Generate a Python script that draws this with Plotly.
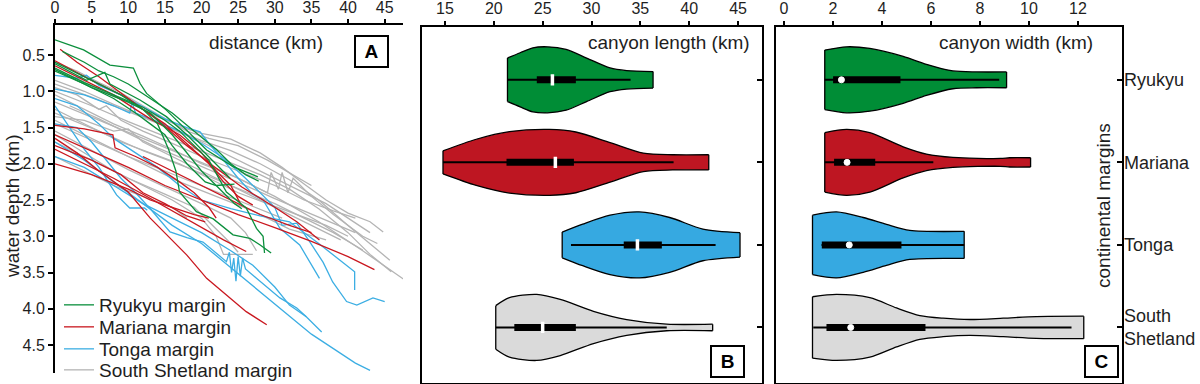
import plotly.graph_objects as go

# ---------------- data ----------------
MARGINS = ["Ryukyu", "Mariana", "Tonga", "South Shetland"]
MARGIN_TICKTEXT = ["Ryukyu", "Mariana", "Tonga", "South<br>Shetland"]
LEGEND_NAMES = ["Ryukyu margin", "Mariana margin", "Tonga margin", "South Shetland margin"]
LINE_COLORS = ["#0b8f3c", "#c9171f", "#3caee3", "#b4b4b4"]
FILL_COLORS = ["#008d36", "#be1622", "#36a9e1", "#dadada"]

DIST_TICKS = [0, 5, 10, 15, 20, 25, 30, 35, 40, 45]
DEPTH_TICKS = [0.5, 1.0, 1.5, 2.0, 2.5, 3.0, 3.5, 4.0, 4.5]
LENGTH_TICKS = [15, 20, 25, 30, 35, 40, 45]
WIDTH_TICKS = [0, 2, 4, 6, 8, 10, 12]

# Panel A: canyon thalweg profiles (distance km, water depth km)
ryukyu_profiles = [
    [(0, 0.29), (3.9, 0.43), (7.5, 0.64), (9, 0.66), (10.7, 0.68), (11.6, 0.89), (12.5, 1.03), (15.2, 1.26),
     (18, 1.54), (20.7, 1.81), (24.3, 2.04), (27.7, 2.18)],
    [(0, 0.62), (4.3, 0.85), (6.8, 0.74), (7.5, 0.9), (11.6, 1.12), (15.2, 1.35), (18, 1.6), (20.7, 1.88), (23.9, 2.2)],
    [(0, 0.6), (3, 0.75), (6, 0.9), (9, 1.05), (12, 1.25), (14, 1.45), (15.5, 1.8), (16.5, 2.1), (17, 2.39),
     (19.3, 2.66), (21.6, 2.76), (24.3, 2.98), (26.6, 3.03), (28, 3.12), (29.5, 3.23)],
    [(0, 0.68), (4, 0.88), (8, 1.05), (12, 1.22), (15, 1.4), (17, 1.55), (19, 1.75), (21, 1.95), (23.4, 2.39),
     (26.1, 2.61), (27.5, 2.89), (28.4, 3.0), (28.6, 3.23)],
    [(0, 0.7), (5, 0.95), (10, 1.15), (13, 1.3), (16, 1.6), (18, 1.85), (20, 2.1), (22, 2.3), (24.5, 2.55), (25.5, 2.62)],
    [(0, 0.72), (4, 0.9), (8, 1.1), (11, 1.3), (13, 1.45), (15, 1.6), (16, 1.75), (18, 2.0), (20.5, 2.25), (22, 2.3),
     (24.5, 2.28)],
    [(1, 0.45), (4, 0.6), (6, 0.72), (8, 0.8), (10, 0.9), (13, 1.1), (16, 1.3), (19, 1.55), (22, 1.8), (24, 2.0),
     (26, 2.15), (27.8, 2.24)],
]
mariana_profiles = [
    [(0.7, 0.42), (3, 0.6), (6, 0.8), (10.7, 1.15), (14.3, 1.42), (18, 1.75), (21.6, 2.03), (25.5, 2.32), (30, 2.6),
     (33, 2.8), (36.1, 3.05)],
    [(0, 0.58), (5, 0.85), (10, 1.1), (12, 1.25), (15, 1.45), (18, 1.72), (21, 2.0), (23, 2.25), (25, 2.45), (27, 2.57)],
    [(0, 0.65), (4, 0.85), (8, 1.05), (11, 1.25), (13, 1.38), (17, 1.6), (20, 1.85), (22, 2.1), (24, 2.3), (25.3, 2.55)],
    [(0, 1.47), (4, 1.52), (7.9, 1.6), (8.2, 1.78), (11, 1.9), (14, 2.05), (17, 2.25), (19, 2.4), (21, 2.6), (22, 2.75)],
    [(0, 1.6), (5, 1.82), (10, 2.05), (15, 2.3), (20, 2.5), (25, 2.7), (30, 2.88), (35, 3.07), (40, 3.28), (43.6, 3.46)],
    [(0, 1.65), (3, 1.85), (6, 2.1), (10, 2.39), (13, 2.75), (16.1, 3.07), (18, 3.26), (20.7, 3.58), (23.4, 3.81),
     (26.1, 4.04), (28.9, 4.22)],
    [(0, 1.8), (4, 2.0), (8, 2.2), (12, 2.42), (16, 2.65), (20, 2.88), (23, 3.05), (26.1, 3.21)],
    [(0, 2.0), (5, 2.15), (10, 2.35), (13, 2.5), (16, 2.6), (19, 2.7), (21, 2.75)],
    [(0, 1.75), (5, 1.95), (9, 2.15), (12, 2.4), (15, 2.55), (18, 2.72), (20.5, 2.8)],
    [(12, 1.9), (18, 2.2), (24, 2.5), (28, 2.7), (32, 2.85), (35, 2.95)],
]
tonga_profiles = [
    [(0, 0.78), (3, 0.82), (4.3, 0.78), (6, 0.92), (9, 1.05), (12, 1.22), (15, 1.38), (18, 1.5), (19.8, 1.56),
     (21, 1.72), (23, 1.95), (25, 2.2), (27, 2.42), (28.4, 2.5), (30.7, 2.89), (33.4, 3.12), (36.1, 3.58)],
    [(0, 0.97), (4, 1.05), (8, 1.2), (10.2, 1.3), (10.5, 1.15), (11, 1.3), (14, 1.42), (17, 1.55), (20, 1.72),
     (23, 1.92), (26, 2.2), (28, 2.4), (30, 2.6), (31, 2.85), (33, 2.82), (34.8, 3.08), (36.6, 3.36), (37.9, 3.63),
     (39.8, 3.9), (41.2, 3.95), (43.4, 3.85), (45, 3.9)],
    [(0, 1.1), (3, 1.2), (6, 1.45), (8, 1.65), (11, 1.85), (14, 2.05), (17, 2.3), (20, 2.5), (24, 2.62), (28, 2.72),
     (32, 2.8), (36, 3.1), (40.9, 3.49), (40.9, 3.74)],
    [(0, 1.45), (3, 1.5), (5, 1.7), (7, 1.95), (9, 2.2), (11, 2.4), (13, 2.62), (15.7, 2.94), (18, 3.02), (20.2, 3.08),
     (23.4, 3.35), (23.8, 3.22), (24.1, 3.5), (24.4, 3.3), (24.7, 3.62), (25, 3.28), (25.3, 3.55), (25.6, 3.3),
     (26, 3.45), (27.5, 3.58), (30.7, 3.85), (33, 3.99), (34.3, 4.11)],
    [(0, 1.2), (2, 1.5), (4, 1.8), (6, 2.05), (8.4, 2.43), (10.2, 2.61), (12.2, 2.61), (12.6, 2.64)],
    [(0, 1.9), (4, 2.05), (8, 2.3), (12, 2.55), (16, 2.75), (20, 2.95), (24, 3.2), (27, 3.4), (30, 3.7), (32, 3.95),
     (34.3, 4.11), (36.4, 4.32)],
    [(0, 1.7), (4, 1.95), (8, 2.25), (12, 2.55), (16, 2.85), (20, 3.1), (23, 3.35), (26, 3.6), (29, 3.85), (32, 4.1),
     (35, 4.35), (38, 4.55), (41, 4.75), (43, 4.85)],
]
shetland_profiles = [
    [(0, 0.7), (3, 0.82), (6, 0.98), (10, 1.15), (14, 1.35), (18, 1.52), (20, 1.58), (24, 1.66), (28, 1.85),
     (31, 2.05), (34, 2.28), (37, 2.5), (40, 2.68), (43, 2.8), (44.8, 2.94)],
    [(0, 0.85), (4, 1.0), (8, 1.18), (12, 1.35), (16, 1.52), (20, 1.68), (24, 1.82), (28, 2.0), (32, 2.22), (36, 2.5),
     (40, 2.85), (43, 3.1), (45.7, 3.33)],
    [(0, 1.0), (5, 1.2), (10, 1.42), (15, 1.62), (20, 1.82), (24, 1.98), (28, 2.15), (32, 2.35), (36, 2.62), (40, 2.95),
     (43, 3.25), (45.9, 3.49)],
    [(0, 1.15), (6, 1.4), (12, 1.65), (18, 1.9), (24, 2.15), (30, 2.45), (36, 2.8), (42, 3.2), (48, 3.62)],
    [(0, 1.3), (6, 1.55), (12, 1.82), (18, 2.05), (24, 2.3), (30, 2.55), (34, 2.75), (38, 2.95), (42, 3.19)],
    [(0, 1.4), (6, 1.7), (12, 2.0), (17, 2.25), (22, 2.45), (27, 2.65), (32, 2.9), (37, 3.05)],
    [(0, 1.55), (5, 1.82), (10, 2.08), (15, 2.32), (20, 2.55), (24, 2.75), (26, 2.95), (27.5, 3.2)],
    [(0, 1.25), (5, 1.5), (9, 1.7), (13, 1.85), (17, 2.0), (21, 2.2), (25, 2.4), (29, 2.55), (33, 2.7), (37, 2.85),
     (40, 3.0)],
    [(0, 0.9), (5, 1.08), (10, 1.28), (15, 1.48), (20, 1.7), (24, 1.9), (27, 2.05), (30, 2.2), (33, 2.35), (37, 2.55),
     (40, 2.75), (43, 2.95)],
    [(0, 1.05), (4, 1.25), (8, 1.45), (12, 1.62), (16, 1.8), (20, 2.0), (25, 2.2), (29, 2.4), (29.5, 2.12),
     (30.5, 2.35), (31, 2.12), (31.8, 2.4), (32.5, 2.2), (35, 2.45), (38, 2.7), (42, 3.0), (44, 3.1)],
    [(0, 1.6), (4, 1.85), (8, 2.1), (12, 2.3), (16, 2.5), (20, 2.75), (22, 3.0), (23, 3.25), (27, 3.25)],
    [(0, 1.7), (5, 1.95), (10, 2.2), (15, 2.42), (19, 2.6), (22, 2.9), (24, 3.1), (25, 3.22)],
    [(0, 1.35), (4, 1.4), (8, 1.55), (10, 1.52), (12, 1.7), (16, 1.9), (20, 2.1), (25, 2.35), (30, 2.6), (35, 2.85),
     (39, 3.05)],
    [(0, 1.9), (4, 2.1), (8, 2.3), (12, 2.45), (16, 2.6), (18, 2.75)],
    [(0, 0.95), (3, 1.05), (6, 1.25), (7, 1.2), (9, 1.4), (12, 1.55), (16, 1.72), (20, 1.9), (25, 2.1), (30, 2.3),
     (34, 2.5), (38, 2.65), (41, 2.75)],
    [(0, 1.45), (5, 1.68), (10, 1.9), (15, 2.1), (20, 2.3), (25, 2.5), (28, 2.62), (31, 2.75)],
    [(2, 1.2), (6, 1.38), (10, 1.58), (14, 1.78), (18, 1.95), (22, 2.12), (26, 2.3), (30, 2.48), (34, 2.65),
     (38, 2.82), (41, 2.95)],
    [(0, 0.6), (3, 0.72), (6, 0.88), (9, 1.02), (12, 1.2), (15, 1.38), (18, 1.55), (21, 1.65), (25, 1.75), (29, 1.95),
     (32, 2.12), (35, 2.3)],
]
PROFILES = [ryukyu_profiles, mariana_profiles, tonga_profiles, shetland_profiles]

# Panel B: canyon length (km) — violin outline (position, relative density) and box stats
length_pos = [
    [21.4, 22.7, 24.0, 25.5, 27.4, 29.5, 31.9, 33.6, 36.3],
    [14.8, 18.2, 21.6, 25.7, 28.4, 31.9, 35.3, 38.3, 42.0],
    [27.0, 29.1, 31.9, 34.9, 38.0, 41.4, 45.2],
    [20.2, 21.6, 24.4, 26.8, 30.2, 33.6, 37.7, 42.4],
]
length_density = [
    [0.66, 0.82, 0.97, 1.0, 0.92, 0.66, 0.36, 0.28, 0.25],
    [0.35, 0.70, 0.93, 1.0, 0.92, 0.60, 0.28, 0.23, 0.23],
    [0.39, 0.63, 0.90, 1.0, 0.83, 0.48, 0.37],
    [0.66, 0.90, 1.0, 0.85, 0.49, 0.24, 0.10, 0.10],
]
# whisker low, q1, median, q3, whisker high
length_stats = [
    [21.4, 24.4, 26.0, 28.4, 34.0],
    [14.8, 21.3, 26.3, 28.2, 38.4],
    [27.9, 33.3, 34.7, 37.2, 42.7],
    [20.2, 22.1, 25.0, 28.4, 37.7],
]

# Panel C: canyon width (km)
width_pos = [
    [1.67, 2.56, 3.51, 4.87, 5.82, 6.9, 7.87, 9.09],
    [1.67, 2.56, 3.51, 4.87, 5.82, 6.9, 8.84, 9.22, 10.07],
    [1.17, 2.15, 3.24, 4.19, 5.14, 7.36],
    [1.17, 2.15, 3.51, 4.6, 5.55, 6.5, 7.59, 8.95, 10.3, 12.24],
]
width_density = [
    [0.90, 1.0, 0.95, 0.71, 0.47, 0.27, 0.24, 0.24],
    [0.90, 1.0, 0.90, 0.47, 0.25, 0.15, 0.12, 0.14, 0.14],
    [0.90, 1.0, 0.83, 0.62, 0.44, 0.41],
    [0.93, 1.0, 0.90, 0.59, 0.36, 0.28, 0.24, 0.28, 0.33, 0.34],
]
width_stats = [
    [1.67, 2.01, 2.35, 4.76, 8.79],
    [1.67, 2.05, 2.58, 3.73, 6.1],
    [1.54, 1.55, 2.67, 4.8, 7.36],
    [1.2, 1.74, 2.73, 5.78, 11.74],
]

# ---------------- styling ----------------
FONT = "Liberation Sans, Arial, sans-serif"
TXT = "#1e1e1e"
VIOLIN_HALF = 0.40
W = 1200
H = 384
LEGEND_KEYS = ["legend", "legend2", "legend3", "legend4"]
LEGEND_CENTERS = [305, 327, 349, 370]


def px_x(p):
    return p / W


def px_y(p):
    return 1 - p / H


fig = go.Figure()

# ---- Panel A lines (gray drawn first, green last) ----
for gi in [3, 2, 1, 0]:
    for li, prof in enumerate(PROFILES[gi]):
        fig.add_trace(go.Scatter(
            x=[p[0] for p in prof], y=[p[1] for p in prof],
            mode="lines", line=dict(color=LINE_COLORS[gi], width=1.3),
            name=LEGEND_NAMES[gi], legendgroup=MARGINS[gi], showlegend=(li == 0),
            legend=LEGEND_KEYS[gi], xaxis="x", yaxis="y", hoverinfo="skip"))


def add_violins(xa, ya, pos_list, dens_list, stats_list, median_symbol, median_size, median_line):
    for i in range(4):
        pos = pos_list[i]
        dens = dens_list[i]
        st = stats_list[i]
        lo = [i + VIOLIN_HALF * d for d in dens]
        hi = [i - VIOLIN_HALF * d for d in dens]
        common = dict(xaxis=xa, yaxis=ya, showlegend=False, hoverinfo="skip")
        fig.add_trace(go.Scatter(x=pos, y=lo, mode="lines",
                                 line=dict(color="black", width=1.3, shape="spline", smoothing=0.8), **common))
        fig.add_trace(go.Scatter(x=pos, y=hi, mode="lines", fill="tonexty", fillcolor=FILL_COLORS[i],
                                 line=dict(color="black", width=1.3, shape="spline", smoothing=0.8), **common))
        fig.add_trace(go.Scatter(x=[pos[0], pos[0], None, pos[-1], pos[-1]],
                                 y=[lo[0], hi[0], None, lo[-1], hi[-1]], mode="lines",
                                 line=dict(color="black", width=1.3), **common))
        fig.add_trace(go.Scatter(x=[st[0], st[4]], y=[i, i], mode="lines",
                                 line=dict(color="black", width=2), **common))
        fig.add_trace(go.Scatter(x=[st[1], st[3]], y=[i, i], mode="lines",
                                 line=dict(color="black", width=7), **common))
        fig.add_trace(go.Scatter(x=[st[2]], y=[i], mode="markers",
                                 marker=dict(symbol=median_symbol, size=median_size, color="white",
                                             line=dict(color="white", width=median_line)), **common))


add_violins("x2", "y2", length_pos, length_density, length_stats, "line-ns", 8, 3.5)
add_violins("x3", "y3", width_pos, width_density, width_stats, "circle", 6, 1)

tickfont = dict(family=FONT, size=16, color=TXT)
axis_common = dict(showgrid=False, zeroline=False, showline=True, linecolor="black", linewidth=2,
                   tickcolor="black", tickwidth=1.5, tickfont=tickfont, automargin=False)

yA_top, yA_bot = 25, 373
yBC_top, yBC_bot = 26.5, 382.5

legend_layout = {}
for k, cy in zip(LEGEND_KEYS, LEGEND_CENTERS):
    legend_layout[k] = dict(x=px_x(59), y=px_y(cy), xanchor="left", yanchor="middle",
                            bgcolor="rgba(0,0,0,0)", font=dict(family=FONT, size=19, color=TXT),
                            itemwidth=30, tracegroupgap=0)

fig.update_layout(
    width=W, height=H, margin=dict(l=0, r=0, t=0, b=0, autoexpand=False),
    paper_bgcolor="white", plot_bgcolor="white",
    font=dict(family=FONT, size=16, color=TXT),
    showlegend=True,
    xaxis=dict(domain=[px_x(55), px_x(403)], range=[0, 47.5], side="top", tickvals=DIST_TICKS,
               ticks="outside", ticklen=4, anchor="y", **axis_common),
    yaxis=dict(domain=[px_y(yA_bot), px_y(yA_top)], range=[4.886, 0.086], tickvals=DEPTH_TICKS,
               tickformat=".1f", ticks="outside", ticklen=5, anchor="x", **axis_common),
    xaxis2=dict(domain=[px_x(421.5), px_x(762)], range=[12.6, 47.45], side="top", tickvals=LENGTH_TICKS,
                ticks="outside", ticklen=4, mirror=True, anchor="y2", **axis_common),
    yaxis2=dict(domain=[px_y(yBC_bot), px_y(yBC_top)], range=[3.667, -0.646], side="right",
                tickvals=[0, 1, 2, 3], showticklabels=False, ticks="inside", ticklen=5, mirror=True,
                anchor="x2", **axis_common),
    xaxis3=dict(domain=[px_x(775.5), px_x(1121.5)], range=[-0.34, 13.78], side="top", tickvals=WIDTH_TICKS,
                ticks="outside", ticklen=4, mirror=True, anchor="y3", **axis_common),
    yaxis3=dict(domain=[px_y(yBC_bot), px_y(yBC_top)], range=[3.667, -0.646], side="right",
                tickvals=[0, 1, 2, 3], ticktext=MARGIN_TICKTEXT, ticks="inside", ticklen=5, mirror=True,
                anchor="x3", **axis_common),
    **legend_layout,
)
fig.update_layout(yaxis3=dict(tickfont=dict(family=FONT, size=18, color=TXT), ticklabelstandoff=-3))

ann_font = dict(family=FONT, size=19, color=TXT)
annotations = [
    dict(text="distance (km)", x=px_x(266), y=px_y(42), xref="paper", yref="paper",
         xanchor="center", yanchor="middle", showarrow=False, font=ann_font),
    dict(text="canyon length (km)", x=px_x(752), y=px_y(42), xref="paper", yref="paper",
         xanchor="right", yanchor="middle", showarrow=False, font=ann_font),
    dict(text="canyon width (km)", x=px_x(1095), y=px_y(42), xref="paper", yref="paper",
         xanchor="right", yanchor="middle", showarrow=False, font=ann_font),
    dict(text="water depth (km)", x=px_x(12), y=px_y(206), xref="paper", yref="paper",
         xanchor="center", yanchor="middle", showarrow=False, textangle=-90, font=ann_font),
    dict(text="continental margins", x=px_x(1103), y=px_y(206), xref="paper", yref="paper",
         xanchor="center", yanchor="middle", showarrow=False, textangle=-90, font=ann_font),
]
for lab, cx, cy in [("A", 371, 51.5), ("B", 727.5, 361), ("C", 1101.5, 361)]:
    annotations.append(dict(text="<b>%s</b>" % lab, x=px_x(cx), y=px_y(cy), xref="paper", yref="paper",
                            xanchor="center", yanchor="middle", showarrow=False,
                            font=dict(family=FONT, size=19, color="black"),
                            bordercolor="black", borderwidth=2, borderpad=3, bgcolor="white",
                            width=25, height=23))
fig.update_layout(annotations=annotations)

fig.write_html("out.html", config={"displayModeBar": False},
               post_script="document.body.style.margin='0';document.body.style.overflow='hidden';")
